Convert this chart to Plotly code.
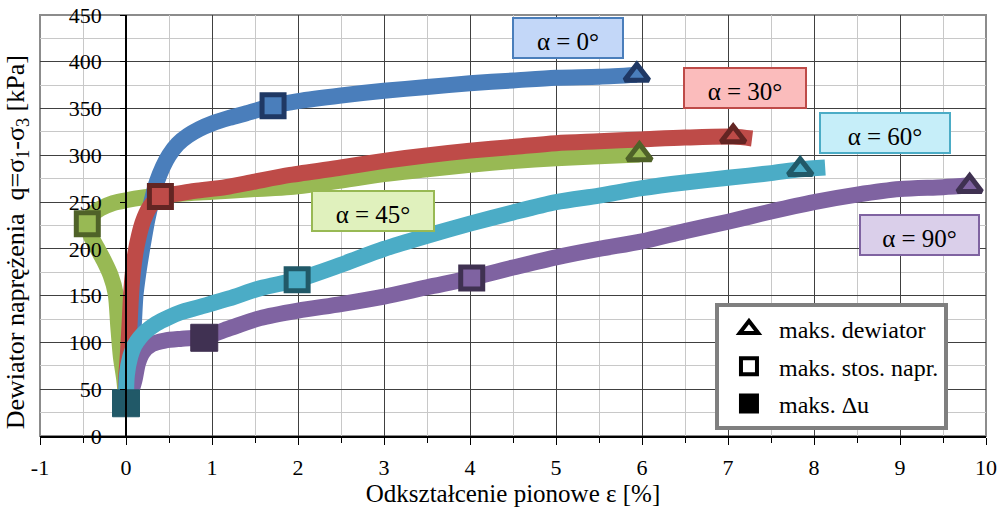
import plotly.graph_objects as go

# ---------------- data ----------------
strain_0 = [0.00, 0.04, 0.07, 0.09, 0.11, 0.14, 0.17, 0.21, 0.25, 0.30, 0.36, 0.43, 0.50, 0.60, 0.72, 0.85, 1.00, 1.20, 1.40, 1.71, 2.00, 2.50, 3.00, 3.50, 4.00, 4.50, 5.00, 5.50, 5.94]
q_0 = [35, 55, 85, 117, 150, 172, 190, 212, 232, 252, 272, 288, 300, 312, 321, 328, 334, 340, 345, 353, 358, 364, 369, 373, 377, 380, 383, 384, 386]

strain_30 = [0.00, 0.00, 0.02, 0.04, 0.06, 0.08, 0.11, 0.15, 0.20, 0.27, 0.34, 0.40, 0.60, 0.80, 1.16, 1.50, 1.91, 2.50, 3.00, 3.50, 4.00, 4.50, 5.00, 5.50, 6.00, 6.50, 7.06, 7.28]
q_30 = [38, 60, 85, 117, 152, 175, 196, 214, 230, 244, 252, 256, 259, 262, 266, 272, 279, 287, 294, 300, 305, 309, 313, 315, 317, 319, 320, 318]

strain_45 = [0.00, -0.02, -0.06, -0.09, -0.12, -0.18, -0.26, -0.33, -0.40, -0.45, -0.40, -0.30, -0.15, 0.00, 0.20, 0.50, 1.00, 1.50, 1.91, 2.50, 3.00, 3.50, 4.00, 4.50, 5.00, 5.50, 5.97]
q_45 = [40, 60, 85, 117, 152, 172, 188, 200, 212, 227, 236, 243, 249, 252, 255, 258, 261, 264, 266, 273, 280, 285, 290, 294, 297, 299, 301]

strain_60 = [0.00, 0.01, 0.05, 0.10, 0.16, 0.22, 0.35, 0.50, 0.63, 0.86, 1.20, 1.56, 1.99, 2.50, 3.00, 3.50, 4.00, 4.50, 5.00, 5.50, 6.00, 6.50, 7.00, 7.50, 7.84, 8.13]
q_60 = [38, 65, 85, 97, 105, 111, 120, 127, 132, 138, 147, 158, 167, 183, 200, 214, 227, 239, 250, 257, 265, 271, 276, 281, 285, 287]

strain_90 = [0.00, 0.06, 0.10, 0.14, 0.20, 0.30, 0.45, 0.65, 0.91, 1.20, 1.56, 2.00, 2.50, 3.00, 3.50, 4.02, 4.50, 5.00, 5.50, 6.00, 6.50, 7.00, 7.50, 8.00, 8.50, 9.00, 9.50, 9.81]
q_90 = [38, 48, 60, 78, 90, 98, 102, 104, 106, 115, 126, 134, 141, 149, 159, 169, 180, 191, 200, 208, 219, 229, 240, 250, 258, 264, 266, 268]

series_names = ["α = 0°", "α = 30°", "α = 45°", "α = 60°", "α = 90°"]

# maks. dewiator (triangles)
dev_strain = [5.94, 7.06, 5.97, 7.84, 9.81]
dev_q = [386, 320, 301, 285, 267]
# maks. stos. napr. (open squares)
ratio_strain = [1.71, 0.40, -0.45, 1.99, 4.02]
ratio_q = [353, 256, 227, 167, 169]
# maks. Δu (filled squares)
du_strain = [0.00, 0.91]
du_q = [35, 105]

legend_labels = ["maks. dewiator", "maks. stos. napr.", "maks. Δu"]
x_ticks = list(range(-1, 11))
x_ticktext = [str(v) for v in x_ticks]
y_ticks = list(range(0, 451, 50))
y_ticktext = [str(v) for v in y_ticks]

# label boxes (data coordinates of box centres)
label_x = [5.14, 7.20, 2.87, 8.83, 9.23]
label_y = [425, 372, 240, 324, 215]

# ---------------- styles ----------------
line_colors = ["#4a7ebb", "#be4b48", "#98b954", "#4bacc6", "#7f63a1"]
dark_colors = ["#1f3864", "#632523", "#4f6228", "#215968", "#3f3151"]
box_fill = ["#c3d7f8", "#fbbcbc", "#e0f1bd", "#c6eef9", "#dacfea"]
box_w = [104, 116, 116, 124, 113]
du_colors = ["#215968", "#403152"]
FONT = "Liberation Serif"

fig = go.Figure()

curves = [(strain_0, q_0), (strain_30, q_30), (strain_45, q_45), (strain_60, q_60), (strain_90, q_90)]
order = [2, 0, 1, 4, 3]
for i in order:
    xs, ys = curves[i]
    fig.add_trace(go.Scatter(x=xs, y=ys, mode="lines", name=series_names[i],
                             line=dict(color=line_colors[i], width=16, shape="spline", smoothing=0.8),
                             showlegend=False, hoverinfo="skip"))

fig.add_trace(go.Scatter(x=dev_strain, y=dev_q, mode="markers", showlegend=False,
                         marker=dict(symbol="triangle-up", size=21, color=line_colors,
                                     line=dict(color=dark_colors, width=5))))
fig.add_trace(go.Scatter(x=ratio_strain, y=ratio_q, mode="markers", showlegend=False,
                         marker=dict(symbol="square", size=22, color=line_colors,
                                     line=dict(color=dark_colors, width=5))))
fig.add_trace(go.Scatter(x=du_strain, y=du_q, mode="markers", showlegend=False,
                         marker=dict(symbol="square", size=27, color=du_colors,
                                     line=dict(color=du_colors, width=1))))

# legend entries
leg_symbols = ["triangle-up", "square", "square"]
leg_fill = ["white", "white", "black"]
for k, lab in enumerate(legend_labels):
    fig.add_trace(go.Scatter(x=[None], y=[None], mode="markers", name=lab,
                             legendgroup=lab,
                             marker=dict(symbol=leg_symbols[k], size=16, color=leg_fill[k],
                                         line=dict(color="black", width=4))))

annotations = []
for i in range(5):
    annotations.append(dict(x=label_x[i], y=label_y[i], xref="x", yref="y",
                            text=series_names[i], showarrow=False,
                            font=dict(family=FONT, size=25, color="black"),
                            bgcolor=box_fill[i], bordercolor=line_colors[i],
                            borderwidth=2, borderpad=2, width=box_w[i], height=34,
                            valign="bottom"))
annotations.append(dict(x=-0.0243, y=0.46, xref="paper", yref="paper",
                        text="Dewiator naprężenia  q=σ<sub>1</sub>-σ<sub>3</sub> [kPa]",
                        textangle=-90, showarrow=False, xanchor="center", yanchor="middle",
                        font=dict(family=FONT, size=26, color="black")))

fig.update_layout(
    width=999, height=508,
    margin=dict(l=40, r=13, t=15, b=72, autoexpand=False),
    paper_bgcolor="white", plot_bgcolor="white",
    font=dict(family=FONT, size=22, color="black"),
    annotations=annotations,
    shapes=[dict(type="rect", xref="paper", yref="paper", x0=0, x1=1, y0=0, y1=1,
                 line=dict(color="#8c8c8c", width=2), layer="between")],
    legend=dict(x=0.7135, y=0.316, xanchor="left", yanchor="top",
                bgcolor="white", bordercolor="#7f7f7f", borderwidth=4,
                font=dict(family=FONT, size=24, color="black"),
                tracegroupgap=3, itemwidth=50),
    xaxis=dict(range=[-1, 10], tickvals=x_ticks, ticktext=x_ticktext, showgrid=True,
               gridcolor="#404040", gridwidth=1, zeroline=False, showline=True,
               linecolor="black", linewidth=1.5, automargin=False,
               ticks="outside", ticklen=7, tickcolor="black", ticklabelstandoff=4,
               tickfont=dict(family=FONT, size=22),
               minor=dict(dtick=0.5, showgrid=True, gridcolor="#c8c8c8", ticks="outside",
                          ticklen=5, tickcolor="black"),
               title=dict(text="Odkształcenie pionowe ε [%]", standoff=2,
                          font=dict(family=FONT, size=25)),
               fixedrange=True),
    yaxis=dict(range=[0, 450], tickvals=y_ticks, ticktext=y_ticktext, showgrid=True,
               gridcolor="#404040", gridwidth=1, zeroline=False, anchor="free",
               position=1/11, automargin=False,
               showline=True, linecolor="black", linewidth=1.5,
               ticks="outside", ticklen=5, tickcolor="black", ticklabelstandoff=14,
               tickfont=dict(family=FONT, size=22),
               minor=dict(dtick=25, showgrid=True, gridcolor="#c8c8c8"),
               fixedrange=True),
)

fig.write_html("out.html",
               config={"displayModeBar": False, "staticPlot": False},
               post_script="document.body.style.margin='0';document.body.style.padding='0';")
